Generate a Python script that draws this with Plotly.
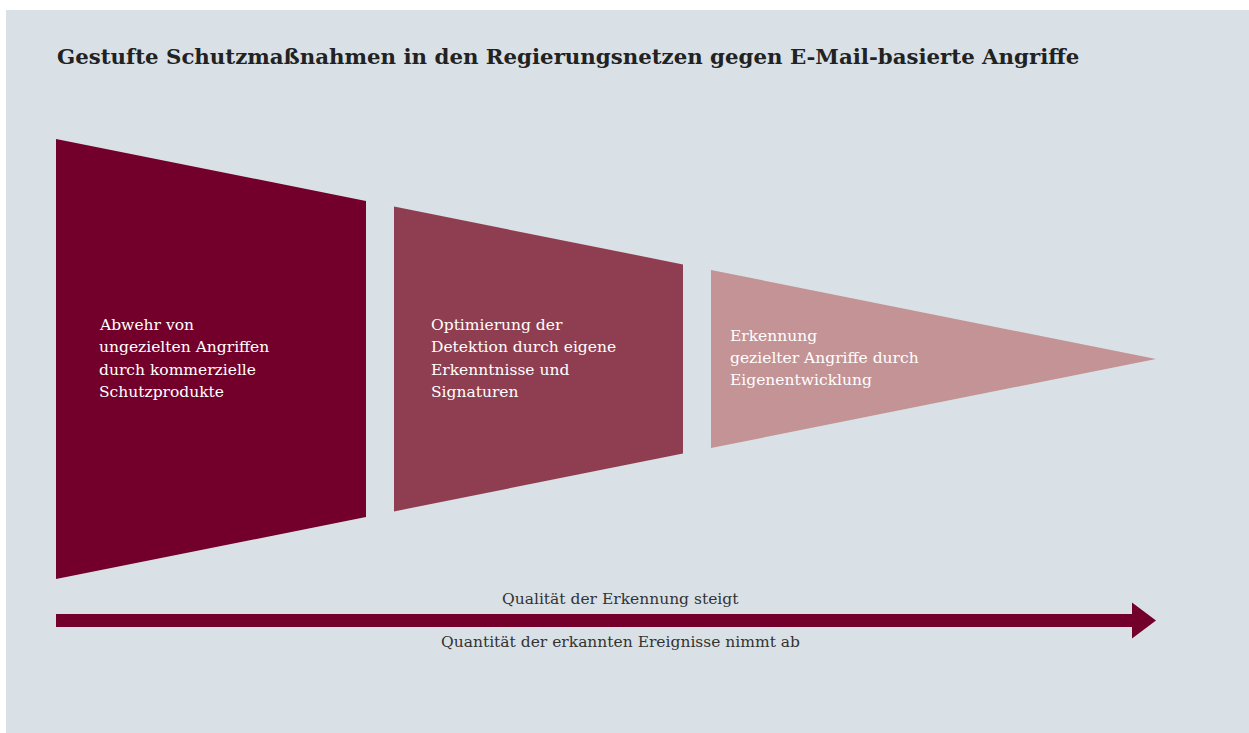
import plotly.graph_objects as go

# ---- data ----
title = "Gestufte Schutzmaßnahmen in den Regierungsnetzen gegen E-Mail-basierte Angriffe"
stage_lines = [
    ["Abwehr von", "ungezielten Angriffen", "durch kommerzielle", "Schutzprodukte"],
    ["Optimierung der", "Detektion durch eigene", "Erkenntnisse und", "Signaturen"],
    ["Erkennung", "gezielter Angriffe durch", "Eigenentwicklung"],
]
stage_colors = ["#72002b", "#8e3e50", "#c39396"]
stage_start = [56, 394, 711]     # left edge of each segment (x units)
stage_end = [366, 683, 1156]     # right edge of each segment
arrow_top_label = "Qualität der Erkennung steigt"
arrow_bottom_label = "Quantität der erkannten Ereignisse nimmt ab"

# funnel geometry
W, H = 1249, 733
x0, x_tip = 56, 1156
cy = 359
half0 = 220


def half(x):
    return half0 * (x_tip - x) / (x_tip - x0)


fig = go.Figure()

for xs, xe, col in zip(stage_start, stage_end, stage_colors):
    hs, he = half(xs), half(xe)
    if he < 0.5:
        px = [xs, xe, xs, xs]
        py = [cy - hs, cy, cy + hs, cy - hs]
    else:
        px = [xs, xe, xe, xs, xs]
        py = [cy - hs, cy - he, cy + he, cy + hs, cy - hs]
    fig.add_trace(go.Scatter(x=px, y=py, fill="toself", fillcolor=col,
                             line=dict(width=0, color=col), mode="lines",
                             hoverinfo="skip", showlegend=False))

# arrow
ay = 620.5
shaft_h = 6.5
head_x = 1132
head_h = 18
fig.add_trace(go.Scatter(
    x=[x0, head_x, head_x, x_tip, head_x, head_x, x0, x0],
    y=[ay - shaft_h, ay - shaft_h, ay - head_h, ay, ay + head_h, ay + shaft_h, ay + shaft_h, ay - shaft_h],
    fill="toself", fillcolor="#72002b", line=dict(width=0, color="#72002b"),
    mode="lines", hoverinfo="skip", showlegend=False))

serif = "DejaVu Serif, Liberation Serif, serif"
body_size = 15.5
title_size = 21.3
text_x = [96.5, 429, 728]
first_baseline = [330, 330, 340.5]
line_gap = 22.4
annotations = []
for lines, tx, fb in zip(stage_lines, text_x, first_baseline):
    for j, ln in enumerate(lines):
        annotations.append(dict(x=tx, y=fb + j * line_gap - 0.32 * body_size, xref="x", yref="y",
                                text=ln, showarrow=False, xanchor="left", yanchor="middle",
                                align="left",
                                font=dict(family=serif, size=body_size, color="white")))

annotations.append(dict(x=620.5, y=604 - 0.32 * body_size, xref="x", yref="y", text=arrow_top_label,
                        showarrow=False, xanchor="center", yanchor="middle",
                        font=dict(family=serif, size=body_size, color="#333333")))
annotations.append(dict(x=620.5, y=647 - 0.32 * body_size, xref="x", yref="y", text=arrow_bottom_label,
                        showarrow=False, xanchor="center", yanchor="middle",
                        font=dict(family=serif, size=body_size, color="#333333")))
annotations.append(dict(x=54.5, y=63 - 0.32 * title_size, xref="x", yref="y", text="<b>" + title + "</b>",
                        showarrow=False, xanchor="left", yanchor="middle",
                        font=dict(family=serif, size=title_size, color="#222222")))

fig.update_layout(
    width=W, height=H,
    margin=dict(l=0, r=0, t=0, b=0),
    paper_bgcolor="white",
    plot_bgcolor="white",
    xaxis=dict(range=[0, W], visible=False, fixedrange=True),
    yaxis=dict(range=[H, 0], visible=False, fixedrange=True),
    annotations=annotations,
    shapes=[dict(type="rect", xref="x", yref="y", x0=6, x1=W, y0=10, y1=H,
                 fillcolor="#d9e1e6", line=dict(width=0), layer="below")],
)

fig.write_html("out.html", config={"displayModeBar": False},
               post_script="document.body.style.margin='0';")
